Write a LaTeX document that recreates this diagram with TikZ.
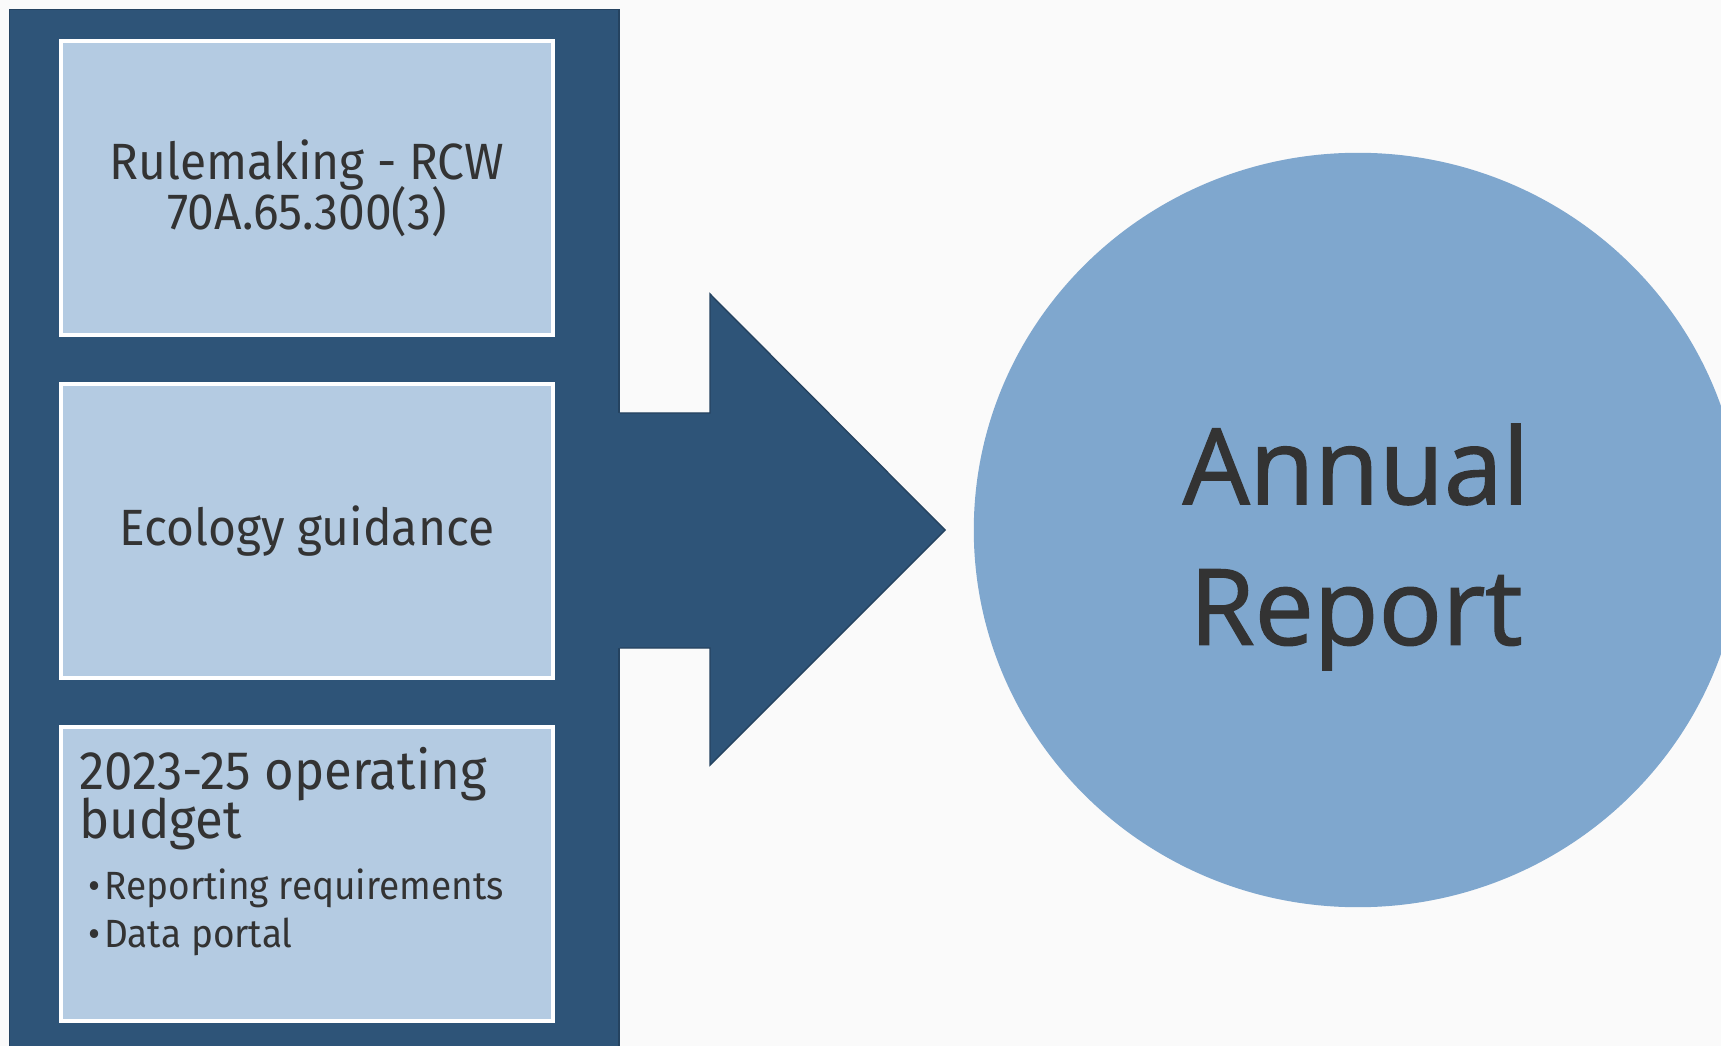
\documentclass[tikz,border=0pt]{standalone}
\usepackage{fontspec}
\setmainfont{Fira Sans}[FakeStretch=0.94]
\newfontfamily\titlefont{Open Sans}[FakeBold=1.3]
\usetikzlibrary{positioning,shapes.geometric}
\definecolor{panelblue}{HTML}{2E5478}
\definecolor{boxblue}{HTML}{B4CBE2}
\definecolor{ovalblue}{HTML}{7FA7CE}
\definecolor{inktext}{HTML}{333333}
\definecolor{pagegray}{HTML}{FAFAFA}
\newcommand\tightlines{\lineskiplimit-20pt\relax}
\tikzset{
panel/.style={shape=rectangle,fill=panelblue,draw=panelblue!80!black,line width=0.4pt,inner sep=0pt},
inputbox/.style={shape=rectangle,fill=boxblue,draw=white,line width=1.2pt,minimum width=4.92cm,minimum height=2.94cm,inner sep=0pt},
boxtext/.style={text=inktext,align=center,font=\fontsize{14.5}{14.2}\selectfont\tightlines},
report/.style={shape=ellipse,fill=ovalblue,minimum width=7.68cm,minimum height=7.54cm,inner sep=0pt},
reporttext/.style={text=inktext,align=center,font=\titlefont\fontsize{30}{40}\selectfont\tightlines}
}

\begin{document}
\begin{tikzpicture}
[x=0.01cm,y=-0.01cm]
\useasboundingbox[fill=pagegray] (0,0) rectangle (1721,1046);
\clip (0,0) rectangle (1721,1046);
\node[panel,anchor=north west,minimum width=6.09cm,minimum height=11cm] (pnl) at (9,9) {};
\node[inputbox] (rule) at (307,188) {};
\node[inputbox] (guide) at (307,531) {};
\node[inputbox] (budget) at (307,874) {};
\node[boxtext] (ruletext) at (rule) {Rulemaking - RCW\\70A.65.300(3)};
\node[boxtext] (guidetext) at (guide) {Ecology guidance};
\node[boxtext,align=left,anchor=north west,font=\fontsize{15.4}{14}\selectfont\tightlines] (head) at (67,735) {2023-25 operating\\budget};
\node[text=inktext,align=left,anchor=north west,font=\fontsize{11.2}{13.7}\selectfont\tightlines] (items) at (76,856)
  {\textbullet\hspace{0.1em}Reporting requirements\\\textbullet\hspace{0.1em}Data portal};
% arrow from the panel to the report
\fill[panelblue] (600,413) -- (710,413) -- (710,294) -- (945,530) -- (710,765) -- (710,648) -- (600,648) -- cycle;
\draw[panelblue!80!black,line width=0.4pt]
  (pnl.east |- 0,413) -- (710,413) -- (710,294) -- (945,530) -- (710,765) -- (710,648) -- (pnl.east |- 0,648);
\node[report] (rep) at (1358,530) {};
\node[reporttext] (reptext) at (1356,547) {Annual\\Report};
\end{tikzpicture}
\end{document}
